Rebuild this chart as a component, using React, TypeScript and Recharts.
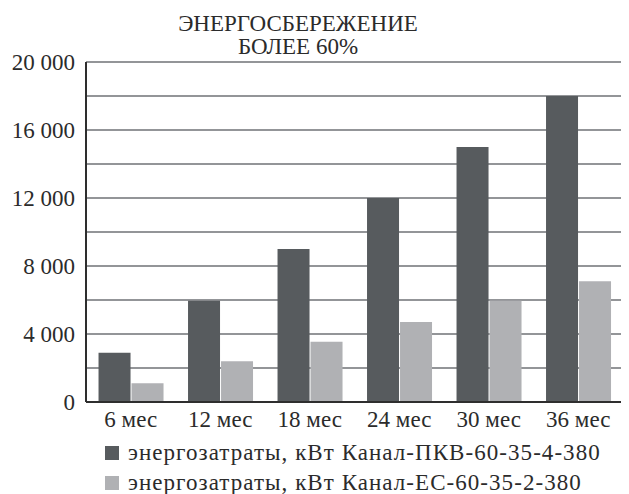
import { BarChart, Bar, XAxis, YAxis, CartesianGrid, Legend } from 'recharts';

const periods = ['6 мес', '12 мес', '18 мес', '24 мес', '30 мес', '36 мес'];
const pkvValues = [2900, 5950, 9000, 12000, 15000, 18000];
const ecValues = [1100, 2400, 3550, 4700, 5950, 7100];
const yTicks = [0, 2000, 4000, 6000, 8000, 10000, 12000, 14000, 16000, 18000, 20000];

const pkvName = 'энергозатраты, кВт Канал-ПКВ-60-35-4-380';
const ecName = 'энергозатраты, кВт Канал-ЕС-60-35-2-380';

const chartData = periods.map((period, i) => ({
  period,
  pkv: pkvValues[i],
  ec: ecValues[i],
}));

const FONT = 'Liberation Serif, Times New Roman, DejaVu Serif, Liberation Sans, sans-serif';
const DARK = '#575b5e';
const LIGHT = '#b0b1b4';
const TEXT = '#2b2b2b';

const formatTick = (v: number) =>
  v % 4000 === 0 ? v.toLocaleString('en-US').replace(/,/g, ' ') : '';

const LegendBox = () => (
  <div
    style={{
      height: 60,
      boxSizing: 'border-box',
      paddingTop: 4,
      paddingLeft: 97,
      fontFamily: FONT,
      fontSize: 23,
      letterSpacing: 1.05,
      color: TEXT,
    }}
  >
    {[
      { name: pkvName, color: DARK },
      { name: ecName, color: LIGHT },
    ].map((item) => (
      <div key={item.name} style={{ display: 'flex', alignItems: 'center', height: 30 }}>
        <span style={{ width: 14, height: 14, background: item.color, marginRight: 9, display: 'inline-block' }} />
        <span>{item.name}</span>
      </div>
    ))}
  </div>
);

export default function App() {
  return (
    <div style={{ position: 'relative', width: 621, height: 486 }}>
      <div
        style={{
          position: 'absolute',
          left: 0,
          top: 0,
          width: 580,
          textAlign: 'center',
          fontFamily: FONT,
          fontSize: 23,
          lineHeight: '23px',
          color: TEXT,
          paddingTop: 4,
        }}
      >
        ЭНЕРГОСБЕРЕЖЕНИЕ
        <br />
        БОЛЕЕ 60%
      </div>
      <BarChart
        width={621}
        height={486}
        data={chartData}
        margin={{ top: 54, right: 6, left: 0, bottom: 0 }}
        barCategoryGap="14%"
        barGap={1}
      >
        <CartesianGrid horizontal vertical={false} stroke="#939598" strokeWidth={2} />
        <XAxis
          dataKey="period"
          axisLine={{ stroke: '#2e2e2e', strokeWidth: 2 }}
          tickLine={false}
          height={32}
          tickMargin={3}
          tick={{ fontFamily: FONT, fontSize: 23, fill: TEXT }}
        />
        <YAxis
          domain={[0, 20000]}
          ticks={yTicks}
          interval={0}
          width={78}
          axisLine={{ stroke: '#2e2e2e', strokeWidth: 2 }}
          tickLine={false}
          tickMargin={5}
          tickFormatter={formatTick}
          tick={{ fontFamily: FONT, fontSize: 23, fill: TEXT }}
        />
        <Legend verticalAlign="bottom" align="left" content={() => <LegendBox />} />
        <Bar dataKey="pkv" name={pkvName} fill={DARK} isAnimationActive={false} />
        <Bar dataKey="ec" name={ecName} fill={LIGHT} isAnimationActive={false} />
      </BarChart>
    </div>
  );
}
